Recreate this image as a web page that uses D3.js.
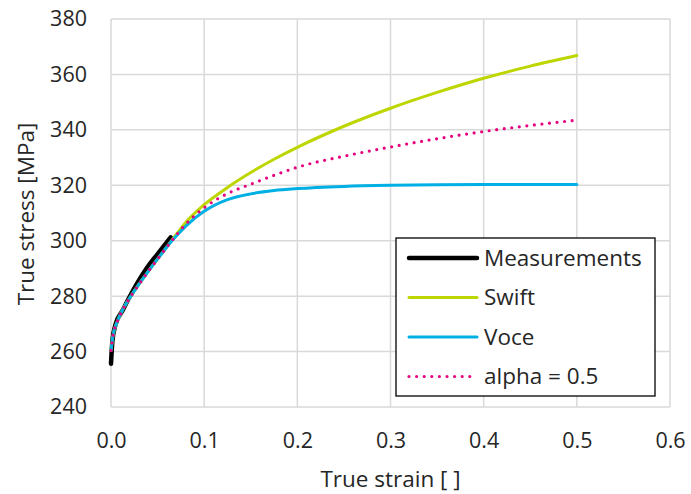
<!DOCTYPE html>
<html>
<head>
<meta charset="utf-8">
<script src="https://cdn.jsdelivr.net/npm/d3@7"></script>
<style>
  html, body { margin:0; padding:0; background:#fff; }
  svg { display:block; font-family:"Open Sans", sans-serif; }
</style>
</head>
<body>
<div id="chart"></div>
<script>
"use strict";
// measured flow curve (short, thick black)
const measStrain = [0, 0.0015, 0.005, 0.0124, 0.0196, 0.0285, 0.039, 0.05, 0.064];
const measStress = [255.6, 263.8, 269.9, 274.8, 279.5, 284.9, 290.4, 295.2, 301.2];
// fitted / extrapolated models
const modelStrain = [0, 0.002, 0.007, 0.014, 0.023, 0.032, 0.043, 0.053, 0.065, 0.08, 0.1, 0.125, 0.15, 0.175, 0.2, 0.25, 0.3, 0.35, 0.4, 0.45, 0.5];
const swiftStress = [260.4, 265.5, 271, 276, 280.8, 285.2, 290.3, 294.7, 300, 306.5, 313, 319.2, 324.6, 329.4, 333.7, 341.3, 347.8, 353.5, 358.6, 363, 366.8];
const voceStress  = [260.4, 265.5, 271, 276, 280.8, 285.2, 290.3, 294.7, 299.8, 305.2, 310.6, 314.8, 316.9, 318.1, 318.8, 319.6, 320, 320.2, 320.3, 320.3, 320.3];
const alphaStress = [260.4, 265.5, 271, 276, 280.8, 285.2, 290.3, 294.7, 299.9, 305.9, 311.9, 317, 320.4, 323.6, 326.5, 330.5, 333.8, 336.8, 339.4, 341.6, 343.5];
const xTicks = [0, 0.1, 0.2, 0.3, 0.4, 0.5, 0.6];
const yTicks = [240, 260, 280, 300, 320, 340, 360, 380];
const seriesNames = ["Measurements", "Swift", "Voce", "alpha = 0.5"];

const W = 691, H = 494;
const M = { left:111, right:W-670, top:19, bottom:H-407 };
const TXT = "#262626";

const svg = d3.select("#chart").append("svg").attr("width", W).attr("height", H);
const x = d3.scaleLinear().domain([0, 0.6]).range([M.left, W - M.right]);
const y = d3.scaleLinear().domain([240, 380]).range([H - M.bottom, M.top]);

// сетка
const grid = svg.append("g").attr("stroke", "#d9d9d9").attr("stroke-width", 1.5);
grid.selectAll("line.v").data(xTicks).join("line").attr("class","v")
  .attr("x1", d=>x(d)).attr("x2", d=>x(d)).attr("y1", y(240)).attr("y2", y(380));
grid.selectAll("line.h").data(yTicks).join("line").attr("class","h")
  .attr("x1", x(0)).attr("x2", x(0.6)).attr("y1", d=>y(d)).attr("y2", d=>y(d));

// оси (только подписи)
const xAxis = svg.append("g").attr("transform", `translate(0,${y(240)})`)
  .call(d3.axisBottom(x).tickValues(xTicks).tickFormat(d3.format(".1f")).tickSize(0).tickPadding(26));
const yAxis = svg.append("g").attr("transform", `translate(${x(0)},0)`)
  .call(d3.axisLeft(y).tickValues(yTicks).tickSize(0).tickPadding(24));
[xAxis, yAxis].forEach(a=>{
  a.select(".domain").remove();
  a.selectAll("text").attr("font-family", "'Open Sans', sans-serif").attr("font-size", 21.5).attr("fill", TXT);
});

svg.append("text").attr("x", (x(0)+x(0.6))/2).attr("y", 487).attr("text-anchor","middle")
  .attr("font-size", 22.5).attr("fill", TXT).text("True strain [ ]");
svg.append("text").attr("transform", `translate(34,${(y(240)+y(380))/2 + 1}) rotate(-90)`).attr("text-anchor","middle")
  .attr("font-size", 22.5).attr("fill", TXT).text("True stress [MPa]");

// кривые
const line = d3.line().x(d=>x(d[0])).y(d=>y(d[1])).curve(d3.curveMonotoneX);
const zip = (a,b)=> a.map((v,i)=>[v, b[i]]);
const plot = svg.append("g").attr("fill","none").attr("stroke-linecap","round").attr("stroke-linejoin","round");
plot.append("path").attr("d", line(zip(measStrain, measStress))).attr("stroke", "#000").attr("stroke-width", 4.5);
plot.append("path").attr("d", line(zip(modelStrain, swiftStress))).attr("stroke", "#bed600").attr("stroke-width", 3);
plot.append("path").attr("d", line(zip(modelStrain, voceStress))).attr("stroke", "#00afe4").attr("stroke-width", 3);
plot.append("path").attr("d", line(zip(modelStrain, alphaStress))).attr("stroke", "#e5007d").attr("stroke-width", 3.2)
  .attr("stroke-dasharray", "0 7.6");

// легенда
const styles = [
  { c:"#000", w:4.5, dash:null },
  { c:"#bed600", w:3, dash:null },
  { c:"#00afe4", w:3, dash:null },
  { c:"#e5007d", w:3.2, dash:"0 7.6" }
];
const leg = svg.append("g").attr("transform", "translate(396,238)");
leg.append("rect").attr("width", 259).attr("height", 158).attr("fill", "#fff").attr("stroke", "#000").attr("stroke-width", 1.3);
const rows = leg.selectAll("g.row").data(seriesNames).join("g").attr("class","row")
  .attr("transform", (d,i)=>`translate(0,${20 + i*39.5})`);
rows.append("line").attr("x1", 13).attr("x2", 81).attr("y1", 0).attr("y2", 0)
  .attr("stroke", (d,i)=>styles[i].c).attr("stroke-width", (d,i)=>styles[i].w)
  .attr("stroke-dasharray", (d,i)=>styles[i].dash).attr("stroke-linecap","round");
rows.append("text").attr("x", 88).attr("y", 0).attr("dy", "0.35em").attr("font-size", 22.5).attr("fill", TXT).text(d=>d);
</script>
</body>
</html>
